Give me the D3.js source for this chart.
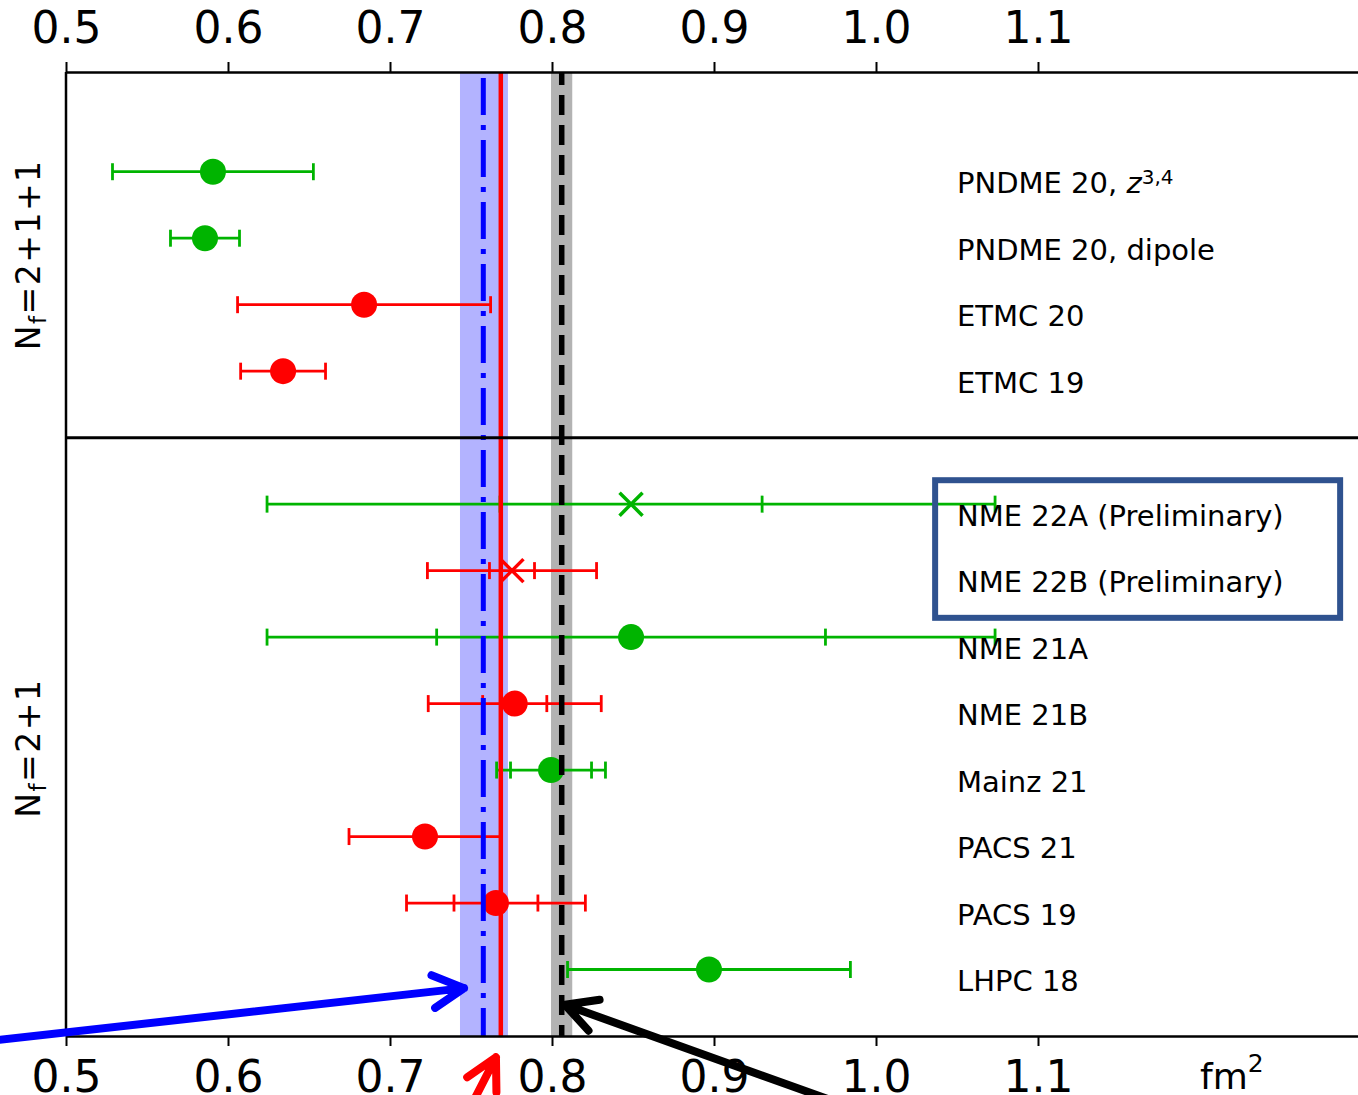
<!DOCTYPE html>
<html>
<head>
<meta charset="utf-8">
<script src="https://cdn.jsdelivr.net/npm/d3@7"></script>
<style>
  body { margin: 0; background: #fff; }
  svg { display: block; font-family: "DejaVu Sans", sans-serif; }
</style>
</head>
<body>
<div id="chart"></div>
<script>
const width = 1358;
const height = 1095;
const plot = {left: 66, top: 72, bottom: 1036, right: 1358};

// results, top to bottom
const labels = ['PNDME 20, z^{3,4}', 'PNDME 20, dipole', 'ETMC 20', 'ETMC 19',
                'NME 22A (Preliminary)', 'NME 22B (Preliminary)', 'NME 21A', 'NME 21B',
                'Mainz 21', 'PACS 21', 'PACS 19', 'LHPC 18'];
const rows = [0, 1, 2, 3, 5, 6, 7, 8, 9, 10, 11, 12];
const centers = [0.5907, 0.5858, 0.684, 0.634, 0.8488, 0.7753, 0.8488, 0.777, 0.7994, 0.7216, 0.7654, 0.8969];
const totalErr = [0.062, 0.0213, 0.0781, 0.0262, 0.2247, 0.0522, 0.2247, 0.0534, 0.0336, 0.0469, 0.0552, 0.0873];
const statErr = [null, null, null, null, 0.0809, 0.0139, 0.12, 0.0198, 0.025, null, 0.0259, null];
const colors = ['green', 'green', 'red', 'red', 'green', 'red', 'green', 'red', 'green', 'red', 'red', 'green'];
const markers = ['o', 'o', 'o', 'o', 'x', 'x', 'o', 'o', 'o', 'o', 'o', 'o'];
const xTicks = [0.5, 0.6, 0.7, 0.8, 0.9, 1.0, 1.1];

// reference values
const blueBand = [0.7432, 0.7728];
const blueLine = 0.7576;
const redLine = 0.7684;
const grayBand = [0.7994, 0.8125];
const blackLine = 0.806;

const groupLabels = ['2+1+1', '2+1'];
const groupRows = [1.25, 8.67];
const dividerRow = 4;

// highlight box round the preliminary results (x range, row range)
const boxX = [1.0365, 1.2865];
const boxRows = [4.64, 6.71];

// annotation arrows: tail and tip in data units
const arrowColors = ['#0000ff', '#ff0000', '#000000'];
const arrowTails = [[0.4469, 13.09], [0.7519, 13.96], [0.9716, 13.96]];
const arrowTips = [[0.7457, 12.28], [0.7654, 13.32], [0.808, 12.53]];

const palette = {green: '#00b400', red: '#ff0000'};

const x = d3.scaleLinear().domain([0.5, 0.5 + (plot.right - plot.left) / 1620]).range([plot.left, plot.right]);
const y = d3.scaleLinear().domain([-1.5, 13]).range([plot.top, plot.bottom]);

const svg = d3.select('#chart').append('svg')
              .attr('width', width)
              .attr('height', height);

// bands
[[blueBand, '#b3b3ff'], [grayBand, '#b3b3b3']].forEach(([band, fill]) => {
  svg.append('rect')
     .attr('x', x(band[0]))
     .attr('y', plot.top)
     .attr('width', x(band[1]) - x(band[0]))
     .attr('height', plot.bottom - plot.top)
     .attr('fill', fill);
});

// error bars and markers
const cap = 8.5;
const points = svg.append('g');
rows.forEach((r, i) => {
  const c = palette[colors[i]];
  const yy = y(r);
  const g = points.append('g').attr('stroke', c).attr('stroke-width', 2.8);
  g.append('line')
   .attr('x1', x(centers[i] - totalErr[i])).attr('x2', x(centers[i] + totalErr[i]))
   .attr('y1', yy).attr('y2', yy);
  let ends = [centers[i] - totalErr[i], centers[i] + totalErr[i]];
  if (statErr[i] !== null) ends.push(centers[i] - statErr[i], centers[i] + statErr[i]);
  ends.forEach(e => {
    g.append('line')
     .attr('x1', x(e)).attr('x2', x(e))
     .attr('y1', yy - cap).attr('y2', yy + cap);
  });
  if (markers[i] === 'o') {
    g.append('circle')
     .attr('cx', x(centers[i])).attr('cy', yy).attr('r', 13)
     .attr('fill', c).attr('stroke', 'none');
  } else {
    const s = 11.5;
    const cx = x(centers[i]);
    g.append('path')
     .attr('d', `M${cx - s},${yy - s}L${cx + s},${yy + s}M${cx - s},${yy + s}L${cx + s},${yy - s}`)
     .attr('stroke-width', 3.5)
     .attr('fill', 'none');
  }
});

// reference lines
svg.append('line')
   .attr('x1', x(blueLine)).attr('x2', x(blueLine))
   .attr('y1', plot.top).attr('y2', plot.bottom)
   .attr('stroke', '#0000ff').attr('stroke-width', 5)
   .attr('stroke-dasharray', '37,10,5,10').attr('stroke-dashoffset', 56);
svg.append('line')
   .attr('x1', x(redLine)).attr('x2', x(redLine))
   .attr('y1', plot.top).attr('y2', plot.bottom)
   .attr('stroke', '#ff0000').attr('stroke-width', 4.5);
svg.append('line')
   .attr('x1', x(blackLine)).attr('x2', x(blackLine))
   .attr('y1', plot.top).attr('y2', plot.bottom)
   .attr('stroke', '#000').attr('stroke-width', 5.5)
   .attr('stroke-dasharray', '20,10').attr('stroke-dashoffset', 7);

// axes
const topAxis = svg.append('g')
   .attr('transform', `translate(0,${plot.top})`)
   .call(d3.axisTop(x).tickValues(xTicks).tickFormat(d3.format('.1f'))
           .tickSize(10).tickSizeOuter(0).tickPadding(19));
const bottomAxis = svg.append('g')
   .attr('transform', `translate(0,${plot.bottom})`)
   .call(d3.axisBottom(x).tickValues(xTicks).tickFormat(d3.format('.1f'))
           .tickSize(10).tickSizeOuter(0).tickPadding(15));
[topAxis, bottomAxis].forEach(a => {
  a.select('.domain').attr('stroke-width', 2.5);
  a.selectAll('.tick line').attr('stroke-width', 2);
  a.selectAll('.tick text').attr('font-size', 44).attr('font-family', '"DejaVu Sans"').attr('fill', '#000');
});

svg.append('line')
   .attr('x1', plot.left).attr('x2', plot.left)
   .attr('y1', plot.top).attr('y2', plot.bottom)
   .attr('stroke', '#000').attr('stroke-width', 2.5);

svg.append('line')
   .attr('x1', plot.left).attr('x2', plot.right)
   .attr('y1', y(dividerRow)).attr('y2', y(dividerRow))
   .attr('stroke', '#000').attr('stroke-width', 3);

// unit label
const unit = svg.append('text')
   .attr('x', 1200).attr('y', 1089)
   .attr('font-size', 36);
unit.append('tspan').text('fm');
unit.append('tspan').attr('font-size', 25).attr('dy', -17).text('2');

// group labels
groupLabels.forEach((lab, i) => {
  const t = svg.append('text')
     .attr('transform', `translate(40,${y(groupRows[i])}) rotate(-90)`)
     .attr('text-anchor', 'middle')
     .attr('font-size', 33)
     .attr('letter-spacing', 1.5);
  t.append('tspan').text('N');
  t.append('tspan').attr('font-size', 23).attr('dy', 6).text('f');
  t.append('tspan').attr('dy', -6).text('=' + lab);
});

// highlight box
svg.append('rect')
   .attr('x', x(boxX[0])).attr('y', y(boxRows[0]))
   .attr('width', x(boxX[1]) - x(boxX[0]))
   .attr('height', y(boxRows[1]) - y(boxRows[0]))
   .attr('fill', 'none')
   .attr('stroke', '#2f528f')
   .attr('stroke-width', 6);

// row labels
rows.forEach((r, i) => {
  const t = svg.append('text')
     .attr('x', x(1.05))
     .attr('y', y(r + 0.323))
     .attr('font-size', 29)
     .attr('fill', '#000');
  const m = labels[i].match(/^(.*)z\^\{(.*)\}$/);
  if (m) {
    t.append('tspan').text(m[1]);
    t.append('tspan').attr('font-style', 'italic').text('z');
    t.append('tspan').attr('font-size', 20).attr('dy', -9).text(m[2]);
  } else {
    t.text(labels[i]);
  }
});

// arrows
arrowTips.forEach((tip, i) => {
  const tx = x(tip[0]), ty = y(tip[1]);
  const sx = x(arrowTails[i][0]), sy = y(arrowTails[i][1]);
  const ang = Math.atan2(sy - ty, sx - tx);
  const len = 35, spread = 28 * Math.PI / 180;
  const a1 = [tx + len * Math.cos(ang + spread), ty + len * Math.sin(ang + spread)];
  const a2 = [tx + len * Math.cos(ang - spread), ty + len * Math.sin(ang - spread)];
  svg.append('path')
     .attr('d', `M${sx},${sy}L${tx},${ty}M${a1[0]},${a1[1]}L${tx},${ty}L${a2[0]},${a2[1]}`)
     .attr('fill', 'none')
     .attr('stroke', arrowColors[i])
     .attr('stroke-width', 8)
     .attr('stroke-linecap', 'round')
     .attr('stroke-linejoin', 'round');
});
</script>
</body>
</html>
